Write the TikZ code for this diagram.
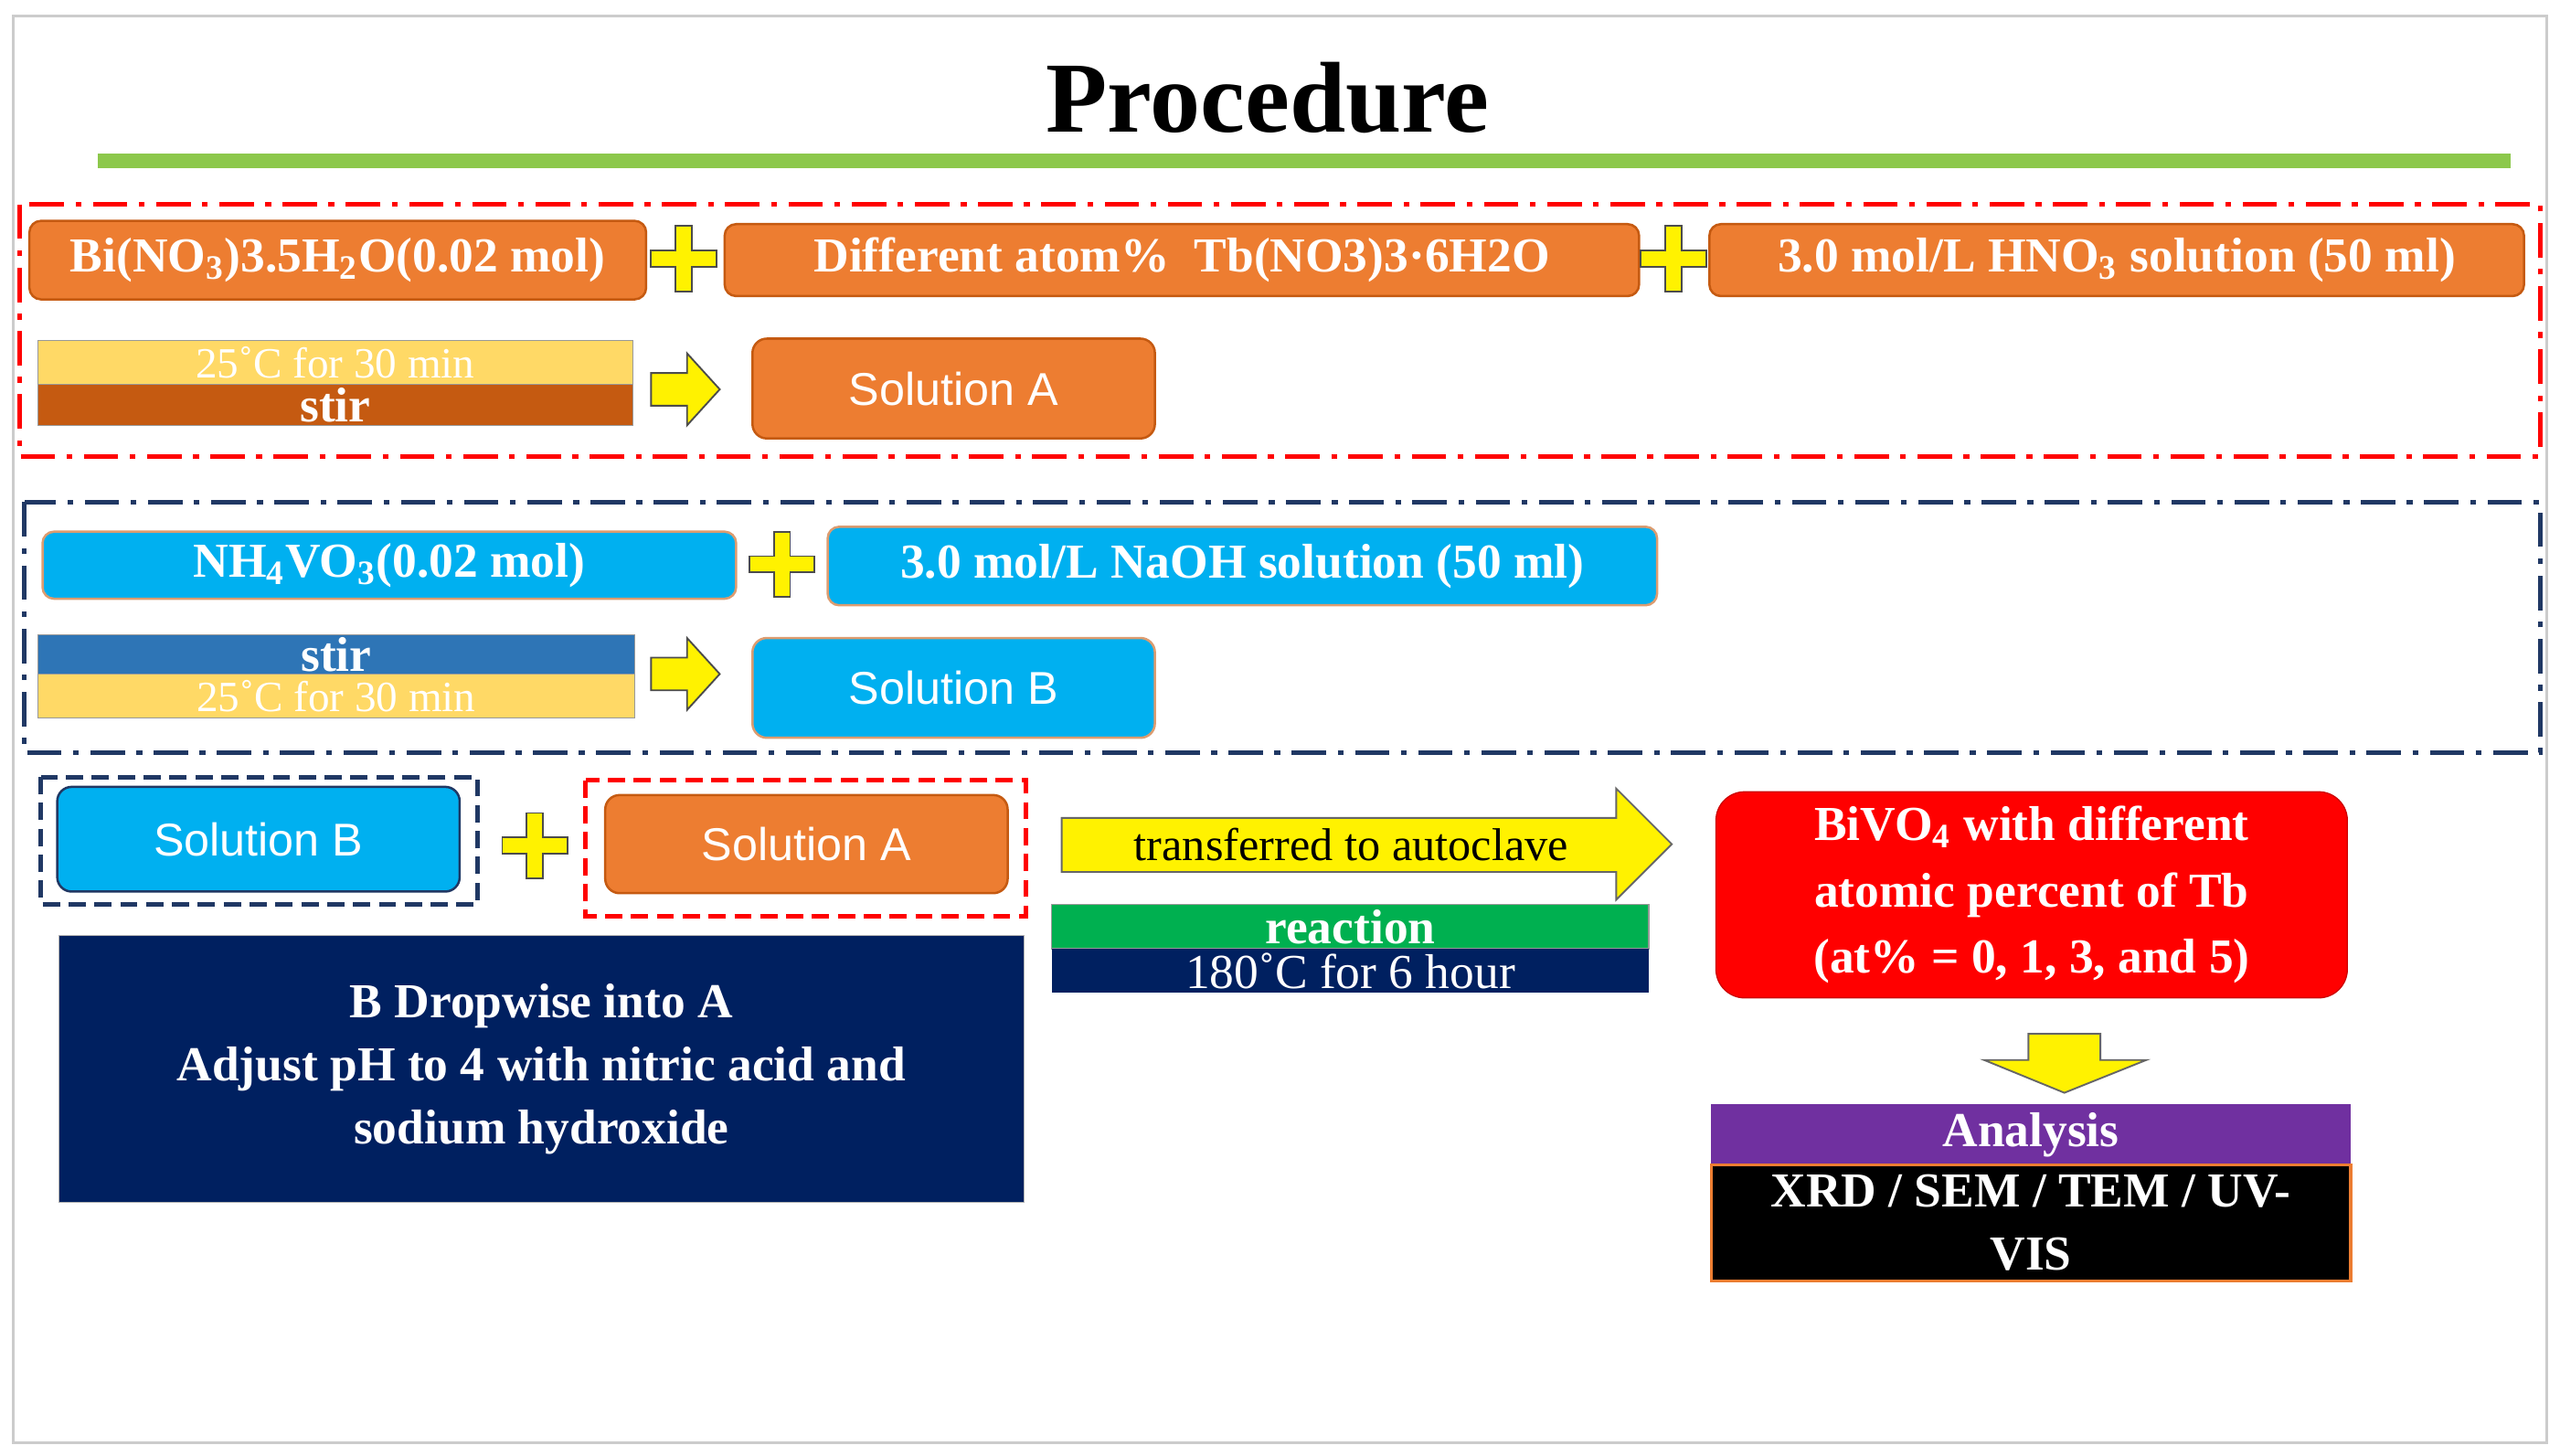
\documentclass[tikz,border=0pt]{standalone}
\usepackage{fontspec}
\setmainfont{Liberation Serif}
\newfontfamily\sansf{Liberation Sans}
\definecolor{org}{HTML}{ED7D31}
\definecolor{orgd}{HTML}{C55A11}
\definecolor{sky}{HTML}{00B0F0}
\definecolor{navy}{HTML}{002060}
\definecolor{dnavy}{HTML}{203864}
\definecolor{ylw}{HTML}{FFD966}
\definecolor{stb}{HTML}{2E75B6}
\definecolor{grn}{HTML}{00B050}
\definecolor{pur}{HTML}{7030A0}
\definecolor{lgrn}{HTML}{8CC84B}
\newcommand\bx[7]{\node[#6, minimum width={(#4-#2)*0.02cm}, minimum height={(#5-#3)*0.02cm}] (#1) at ({(#2+#4)/2},{(#3+#5)/2}) {#7};}
\newcommand\plusat[2]{\draw[fill=yellow,draw=black!70,line width=0.6pt,shift={(#1,#2)}] (-5,-20)--(5,-20)--(5,-5)--(20,-5)--(20,5)--(5,5)--(5,20)--(-5,20)--(-5,5)--(-20,5)--(-20,-5)--(-5,-5)--cycle;}
\newcommand\rarrow[2]{\draw[fill=yellow,draw=black!70,line width=0.6pt,shift={(#1,#2)}] (0,-10)--(22,-10)--(22,-22)--(42,0)--(22,22)--(22,10)--(0,10)--cycle;}
\tikzset{
 txt/.style={font=\fontsize{17}{20}\selectfont\bfseries, text=white, inner sep=0pt},
 ob/.style={txt, fill=org, draw=orgd, rounded corners=4pt, line width=0.8pt},
 bb/.style={txt, fill=sky, draw=orgd!60, rounded corners=4pt, line width=0.8pt},
 sol/.style={font=\sansf\fontsize{16}{20}\selectfont, text=white, inner sep=0pt, rounded corners=5pt, line width=0.8pt},
 bar/.style={txt, draw=black!40, line width=0.4pt},
 sbar/.style={bar, font=\fontsize{15}{17}\selectfont},
 ddash/.style={line width=1.6pt, dash pattern=on 12pt off 4pt on 2pt off 4pt},
}
\begin{document}
\begin{tikzpicture}[x=0.02cm,y=-0.02cm]
\useasboundingbox (0,0) rectangle (1565,890);
\fill[white] (0,0) rectangle (1565,890);
\draw[black!20,line width=1pt] (8,10) rectangle (1557,882);
\node[font=\fontsize{35}{40}\selectfont\bfseries] (title) at (775,60) {Procedure};
\fill[lgrn] (60,94) rectangle (1535,103);
% group A
\draw[red,ddash] (12,125) rectangle (1553,279);
\bx{bi}{18}{135}{395}{183}{ob}{Bi(NO\textsubscript{3})3.5H\textsubscript{2}O(0.02 mol)}
\bx{tb}{443}{137}{1002}{181}{ob}{Different atom\%\ \ Tb(NO3)3·6H2O}
\bx{hn}{1045}{137}{1543}{181}{ob}{3.0 mol/L HNO\textsubscript{3} solution (50 ml)}
\plusat{418}{158}\plusat{1023}{158}
\bx{ta}{23}{208}{387}{235}{sbar,fill=ylw}{25˚C for 30 min}
\bx{sa}{23}{235}{387}{260}{bar,fill=orgd}{stir}
\rarrow{398}{238}
\bx{solA}{460}{207}{706}{268}{sol,fill=org,draw=orgd}{Solution A}
% group B
\draw[dnavy,ddash] (15,307) rectangle (1553,460);
\bx{nh}{26}{325}{450}{366}{bb}{NH\textsubscript{4}VO\textsubscript{3}(0.02 mol)}
\bx{na}{506}{322}{1013}{370}{bb}{3.0 mol/L NaOH solution (50 ml)}
\plusat{478}{345}
\bx{sb}{23}{388}{388}{412}{bar,fill=stb}{stir}
\bx{tbb}{23}{412}{388}{439}{sbar,fill=ylw}{25˚C for 30 min}
\rarrow{398}{412}
\bx{solB}{460}{390}{706}{451}{sol,fill=sky,draw=orgd!60}{Solution B}
% mixing
\draw[dnavy,line width=1.6pt,dash pattern=on 6pt off 3pt] (25,475) rectangle (292,553);
\bx{solB2}{35}{481}{281}{545}{sol,fill=sky,draw=dnavy}{Solution B}
\draw[red,line width=1.6pt,dash pattern=on 6pt off 3pt] (358,477) rectangle (627,560);
\bx{solA2}{370}{486}{616}{546}{sol,fill=org,draw=orgd}{Solution A}
\plusat{327}{517}
\bx{drop}{36}{572}{626}{735}{txt,fill=navy,align=center,draw=black!30}{B Dropwise into A\\[2pt]Adjust pH to 4 with nitric acid and\\[2pt]sodium hydroxide}
% autoclave
\draw[fill=yellow,draw=black!60,line width=0.6pt] (649,500)--(988,500)--(988,482)--(1022,516)--(988,550)--(988,533)--(649,533)--cycle;
\node[font=\fontsize{16}{20}\selectfont, inner sep=0pt] (tr) at (826,516) {transferred to autoclave};
\bx{re}{643}{553}{1008}{580}{bar,fill=grn}{reaction}
\bx{te}{643}{580}{1008}{607}{txt,fill=navy,font=\fontsize{17}{20}\selectfont}{180˚C for 6 hour}
\bx{bv}{1049}{484}{1435}{610}{txt,fill=red,draw=red!80!black,rounded corners=10pt,align=center}{BiVO\textsubscript{4} with different\\[3pt]atomic percent of Tb\\[3pt](at\% = 0, 1, 3, and 5)}
\draw[fill=yellow,draw=black!60,line width=0.6pt] (1240,632)--(1284,632)--(1284,648)--(1312,648)--(1262,668)--(1213,648)--(1240,648)--cycle;
\bx{an}{1046}{675}{1437}{712}{txt,fill=pur}{Analysis}
\bx{xr}{1046}{712}{1437}{783}{txt,fill=black,draw=org,line width=1pt,align=center}{XRD / SEM / TEM / UV-\\[2pt]VIS}
\end{tikzpicture}
\end{document}
